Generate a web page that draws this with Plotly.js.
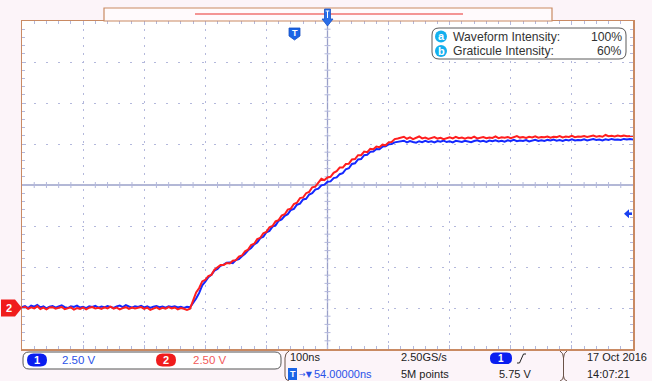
<!DOCTYPE html>
<html>
<head>
<meta charset="utf-8">
<script src="https://cdn.plot.ly/plotly-3.0.1.min.js"></script>
<style>
  html, body { margin: 0; padding: 0; background: #fcf4f9; }
  #scope { width: 652px; height: 381px; }
</style>
</head>
<body>
<div id="scope"></div>
<script>
// Record settings
const SAMPLE_START_NS = -446;
const SAMPLE_STEP_NS = 5;
const timeDivNs = 100;
const voltsPerDiv = 2.5;
const horizontalDelayNs = 54;
const groundOffsetDiv = -3;
const triggerLevelV = 5.75;

// Channel 1 (blue) samples, volts
const ch1Volts = [
  0.05, 0.12, 0.00, 0.14, 0.08, 0.18, 0.04, 0.10, -0.02, 0.08,
  0.12, 0.02, 0.09, 0.16, 0.05, 0.00, 0.11, 0.06, 0.14, 0.03,
  0.08, -0.01, 0.10, 0.06, 0.13, 0.02, 0.09, 0.04, 0.12, 0.07,
  0.01, 0.10, 0.15, 0.05, 0.18, 0.09, 0.02, 0.11, 0.06, 0.13,
  0.04, 0.10, 0.00, 0.08, 0.12, 0.05, 0.09, 0.02, 0.10, 0.06,
  0.11, 0.03, 0.08, 0.01, 0.07, 0.04,
  0.28, 0.58, 0.92, 1.38, 1.60, 1.88, 2.02, 2.28, 2.38, 2.58,
  2.64, 2.76, 2.78, 2.74, 2.92, 2.98, 3.16, 3.30, 3.52, 3.66,
  3.88, 4.00, 4.26, 4.34, 4.62, 4.70, 4.96, 5.04, 5.32, 5.40,
  5.62, 5.72, 5.98, 6.04, 6.30, 6.36, 6.62, 6.66, 6.92, 7.00,
  7.22, 7.28, 7.48, 7.52, 7.70, 7.72, 7.92, 7.96, 8.16, 8.22,
  8.46, 8.52, 8.78, 8.82, 9.06, 9.08, 9.32, 9.34, 9.52, 9.54,
  9.70, 9.68, 9.84, 9.86, 9.98, 10.00, 10.10, 10.12,
  10.14, 10.20, 10.10, 10.18, 10.12, 10.08, 10.17, 10.11, 10.19, 10.13,
  10.16, 10.09, 10.18, 10.14, 10.21, 10.12, 10.16, 10.10, 10.19, 10.15,
  10.13, 10.20, 10.16, 10.11, 10.18, 10.22, 10.15, 10.19, 10.13, 10.21,
  10.17, 10.23, 10.16, 10.20, 10.14, 10.22, 10.18, 10.25, 10.17, 10.21,
  10.19, 10.24, 10.16, 10.22, 10.26, 10.19, 10.23, 10.18, 10.25, 10.21,
  10.27, 10.20, 10.24, 10.19, 10.26, 10.22, 10.28, 10.21, 10.25, 10.23,
  10.29, 10.22, 10.26, 10.30, 10.24, 10.27, 10.22, 10.29, 10.25, 10.31,
  10.26, 10.28, 10.24, 10.31, 10.27, 10.30, 10.28
];

// Channel 2 (red) samples, volts
const ch2Volts = [
  0.00, 0.07, -0.05, 0.04, -0.02, 0.10, -0.06, 0.02, -0.08, 0.03,
  0.05, -0.04, 0.01, 0.06, -0.07, -0.02, 0.04, -0.10, 0.00, -0.05,
  0.03, -0.08, 0.02, 0.06, -0.03, 0.01, -0.06, 0.04, -0.02, 0.08,
  -0.04, 0.02, -0.09, -0.01, 0.05, -0.06, 0.03, -0.03, 0.00, 0.06,
  -0.05, 0.02, -0.12, -0.02, 0.04, -0.07, 0.01, -0.04, 0.05, -0.02,
  0.03, -0.08, 0.00, -0.05, -0.12, -0.04,
  0.45, 0.95, 1.22, 1.62, 1.72, 1.94, 2.02, 2.34, 2.48, 2.62,
  2.62, 2.74, 2.72, 2.88, 2.92, 3.14, 3.20, 3.46, 3.56, 3.84,
  3.92, 4.20, 4.28, 4.56, 4.64, 4.92, 5.00, 5.28, 5.36, 5.64,
  5.72, 6.00, 6.06, 6.34, 6.42, 6.70, 6.74, 7.00, 7.08, 7.36,
  7.40, 7.62, 7.88, 7.80, 7.96, 8.00, 8.24, 8.34, 8.56, 8.56,
  8.78, 8.80, 9.06, 9.08, 9.32, 9.32, 9.54, 9.50, 9.70, 9.68,
  9.84, 9.80, 9.96, 9.92, 10.10, 10.12, 10.30, 10.34,
  10.38, 10.44, 10.32, 10.40, 10.30, 10.36, 10.46, 10.34, 10.39, 10.31,
  10.37, 10.42, 10.33, 10.38, 10.29, 10.36, 10.41, 10.34, 10.44, 10.35,
  10.39, 10.32, 10.40, 10.36, 10.45, 10.34, 10.38, 10.42, 10.35, 10.40,
  10.37, 10.46, 10.36, 10.41, 10.38, 10.43, 10.35, 10.40, 10.48, 10.39,
  10.42, 10.37, 10.44, 10.40, 10.47, 10.38, 10.43, 10.41, 10.46, 10.39,
  10.44, 10.42, 10.48, 10.40, 10.45, 10.43, 10.50, 10.42, 10.46, 10.44,
  10.49, 10.43, 10.47, 10.52, 10.45, 10.48, 10.44, 10.55, 10.47, 10.50,
  10.46, 10.52, 10.48, 10.51, 10.47, 10.50, 10.49
];

// Readout texts
const ch1ScaleText = '2.50 V';
const ch2ScaleText = '2.50 V';
const timebaseText = '100ns';
const delayArrows = '\u2192\u25BC';
const delayValueText = '54.00000ns';
const sampleRateText = '2.50GS/s';
const recordText = '5M points';
const triggerText = '5.75 V';
const dateText = '17 Oct\u00a02016';
const clockText = '14:07:21';
const intensityLabels = ['Waveform Intensity:', 'Graticule Intensity:'];
const intensityValues = ['100%', '60%'];

// Screen geometry (pixels)
const W = 652, H = 381;
const M = { l: 22, r: 19, t: 21, b: 32 };
const PW = W - M.l - M.r, PH = H - M.t - M.b;
const X = p => (p - M.l) / PW;
const Y = p => (H - M.b - p) / PH;
const pt = (x, y) => X(x) + ' ' + Y(y);
function roundRect(x0, y0, x1, y1, r) {
  return 'M ' + pt(x0 + r, y0) + ' L ' + pt(x1 - r, y0) +
    ' Q ' + pt(x1, y0) + ' ' + pt(x1, y0 + r) +
    ' L ' + pt(x1, y1 - r) + ' Q ' + pt(x1, y1) + ' ' + pt(x1 - r, y1) +
    ' L ' + pt(x0 + r, y1) + ' Q ' + pt(x0, y1) + ' ' + pt(x0, y1 - r) +
    ' L ' + pt(x0, y0 + r) + ' Q ' + pt(x0, y0) + ' ' + pt(x0 + r, y0) + ' Z';
}

const centerV = -groundOffsetDiv * voltsPerDiv;
const xRange = [horizontalDelayNs - 5 * timeDivNs, horizontalDelayNs + 5 * timeDivNs];
const yRange = [centerV - 4 * voltsPerDiv, centerV + 4 * voltsPerDiv];

const FONT = 'Liberation Sans, Arial, sans-serif';
const GRID = '#b3b8dc';
const FRAME = '#c98a63';
const BLUE = '#0a1ef0';
const RED = '#f01c1c';

const traces = [
  { y: ch1Volts, x0: SAMPLE_START_NS, dx: SAMPLE_STEP_NS, type: 'scatter', mode: 'lines',
    line: { color: '#1428ff', width: 2 }, hoverinfo: 'skip' },
  { y: ch2Volts, x0: SAMPLE_START_NS, dx: SAMPLE_STEP_NS, type: 'scatter', mode: 'lines',
    line: { color: '#ff1e1e', width: 2 }, hoverinfo: 'skip' }
];

const shapes = [];
// Center crosshair
shapes.push({ type: 'line', layer: 'between', xref: 'x', yref: 'paper', x0: horizontalDelayNs, x1: horizontalDelayNs, y0: 0, y1: 1, line: { color: '#9aa0c8', width: 1.3 } });
shapes.push({ type: 'line', layer: 'between', xref: 'paper', yref: 'y', x0: 0, x1: 1, y0: centerV, y1: centerV, line: { color: '#9aa0c8', width: 1.3 } });
// Minor ticks along the crosshair
for (let k = -20; k <= 20; k++) {
  if (k % 5 === 0) continue;
  shapes.push({ type: 'line', layer: 'between', xref: 'x', yref: 'y', xsizemode: 'pixel', xanchor: horizontalDelayNs,
    x0: -3, x1: 3, y0: centerV + k * voltsPerDiv / 5, y1: centerV + k * voltsPerDiv / 5, line: { color: GRID, width: 1 } });
}
for (let k = -25; k <= 25; k++) {
  if (k % 5 === 0) continue;
  shapes.push({ type: 'line', layer: 'between', xref: 'x', yref: 'y', ysizemode: 'pixel', yanchor: centerV,
    y0: -3, y1: 3, x0: horizontalDelayNs + k * timeDivNs / 5, x1: horizontalDelayNs + k * timeDivNs / 5, line: { color: GRID, width: 1 } });
}
// Record view bar above the screen
shapes.push({ type: 'rect', xref: 'paper', yref: 'paper', x0: X(104), x1: X(552), y0: Y(21), y1: Y(8), fillcolor: '#fffafc', line: { color: FRAME, width: 1.2 } });
shapes.push({ type: 'line', xref: 'paper', yref: 'paper', x0: X(195), x1: X(463), y0: Y(14), y1: Y(14), line: { color: '#f07272', width: 1.5 } });
// Expansion point marker at the horizontal center
shapes.push({ type: 'path', xref: 'x', yref: 'paper', xsizemode: 'pixel', xanchor: horizontalDelayNs,
  path: 'M -3 ' + Y(9) + ' L 3 ' + Y(9) + ' L 3 ' + Y(19) + ' L 5.5 ' + Y(19) + ' L 0 ' + Y(26) + ' L -5.5 ' + Y(19) + ' L -3 ' + Y(19) + ' Z',
  fillcolor: '#2a6ee8', line: { color: '#1850c8', width: 0.8 } });
shapes.push({ type: 'path', xref: 'x', yref: 'paper', xsizemode: 'pixel', xanchor: horizontalDelayNs,
  path: 'M -1.8 ' + Y(11) + ' L 1.8 ' + Y(11) + ' M 0 ' + Y(11) + ' L 0 ' + Y(18), line: { color: '#ffffff', width: 1 } });
// Trigger position marker (t = 0)
shapes.push({ type: 'path', xref: 'x', yref: 'paper', xsizemode: 'pixel', xanchor: 0,
  path: 'M -5.5 ' + Y(28) + ' L 5.5 ' + Y(28) + ' L 5.5 ' + Y(36) + ' L 0 ' + Y(40) + ' L -5.5 ' + Y(36) + ' Z',
  fillcolor: '#1a64e6', line: { color: '#1a50c0', width: 0.8 } });
// Trigger level arrow (right edge)
shapes.push({ type: 'path', xref: 'paper', yref: 'y', ysizemode: 'pixel', yanchor: triggerLevelV,
  path: 'M ' + X(624) + ' 0 L ' + X(629) + ' 4.5 L ' + X(629) + ' -4.5 Z', fillcolor: '#1a40f0', line: { width: 0 } });
shapes.push({ type: 'path', xref: 'paper', yref: 'y', ysizemode: 'pixel', yanchor: triggerLevelV,
  path: 'M ' + X(628) + ' 1.3 L ' + X(632) + ' 1.3 L ' + X(632) + ' -1.3 L ' + X(628) + ' -1.3 Z', fillcolor: '#1a40f0', line: { width: 0 } });
// Channel 2 ground marker (left edge)
shapes.push({ type: 'path', xref: 'paper', yref: 'y', ysizemode: 'pixel', yanchor: 0,
  path: 'M ' + X(1) + ' 8.5 L ' + X(15) + ' 8.5 L ' + X(22) + ' 0 L ' + X(15) + ' -8.5 L ' + X(1) + ' -8.5 Z',
  fillcolor: RED, line: { width: 0 } });
// Intensity readout box
shapes.push({ type: 'path', xref: 'paper', yref: 'paper', path: roundRect(432, 28, 626, 59, 7), fillcolor: '#ffffff', line: { color: '#5a5a5a', width: 1 } });
shapes.push({ type: 'circle', xref: 'paper', yref: 'paper', x0: X(435), x1: X(447), y0: Y(42.5), y1: Y(30.5), fillcolor: '#14b0ee', line: { width: 0 } });
shapes.push({ type: 'circle', xref: 'paper', yref: 'paper', x0: X(435), x1: X(447), y0: Y(57), y1: Y(45), fillcolor: '#14b0ee', line: { width: 0 } });
// Status bar
shapes.push({ type: 'path', xref: 'paper', yref: 'paper', path: roundRect(23, 352, 281, 369, 6), fillcolor: '#ffffff', line: { color: '#555555', width: 1 } });
shapes.push({ type: 'path', xref: 'paper', yref: 'paper', path: roundRect(27, 353.5, 47, 366.5, 6.5), fillcolor: BLUE, line: { width: 0 } });
shapes.push({ type: 'path', xref: 'paper', yref: 'paper', path: roundRect(156, 353.5, 176, 366.5, 6.5), fillcolor: RED, line: { width: 0 } });
shapes.push({ type: 'path', xref: 'paper', yref: 'paper', path: roundRect(490, 352.5, 512, 364, 5.5), fillcolor: BLUE, line: { width: 0 } });
shapes.push({ type: 'rect', xref: 'paper', yref: 'paper', x0: X(288), x1: X(297), y0: Y(380), y1: Y(368), fillcolor: '#1a64e6', line: { width: 0 } });
shapes.push({ type: 'path', xref: 'paper', yref: 'paper',
  path: 'M ' + pt(289, 351) + ' Q ' + pt(285, 353) + ' ' + pt(285, 358) + ' L ' + pt(285, 376) + ' Q ' + pt(285, 380) + ' ' + pt(289, 381),
  line: { color: '#6a5248', width: 1 } });
shapes.push({ type: 'path', xref: 'paper', yref: 'paper',
  path: 'M ' + pt(560, 351) + ' Q ' + pt(563.5, 353) + ' ' + pt(563.5, 358) + ' L ' + pt(563.5, 376) + ' Q ' + pt(563.5, 380) + ' ' + pt(560, 381) +
        ' M ' + pt(567, 351) + ' Q ' + pt(563.5, 353) + ' ' + pt(563.5, 358) + ' M ' + pt(563.5, 376) + ' Q ' + pt(563.5, 380) + ' ' + pt(567, 381),
  line: { color: '#6a5248', width: 1 } });
// Rising edge symbol
shapes.push({ type: 'path', xref: 'paper', yref: 'paper',
  path: 'M ' + pt(517, 363) + ' L ' + pt(519.5, 363) + ' L ' + pt(523.5, 354) + ' L ' + pt(526, 354),
  line: { color: '#222222', width: 1 } });

function label(text, x, y, opts) {
  return Object.assign({ text: text, xref: 'paper', yref: 'paper', x: X(x), y: Y(y), xanchor: 'left', yanchor: 'middle',
    showarrow: false, borderpad: 0, font: { family: FONT, size: 11, color: '#222222' } }, opts || {});
}
const annotations = [
  label('2', 9.5, 0, { yref: 'y', y: 0, xanchor: 'center', font: { family: FONT, size: 11, color: '#ffffff', weight: 'bold' } }),
  { text: 'T', xref: 'x', yref: 'paper', x: 0, y: Y(33.5), xanchor: 'center', yanchor: 'middle', showarrow: false, borderpad: 0,
    font: { family: FONT, size: 9, color: '#ffffff', weight: 'bold' } },
  label('a', 441, 36.2, { xanchor: 'center', font: { family: FONT, size: 11, color: '#ffffff', weight: 'bold' } }),
  label('b', 441, 50.6, { xanchor: 'center', font: { family: FONT, size: 11, color: '#ffffff', weight: 'bold' } }),
  label(intensityLabels[0], 452, 37, { font: { family: FONT, size: 12.2, color: '#333333' } }),
  label(intensityLabels[1], 452, 51, { font: { family: FONT, size: 12.2, color: '#333333' } }),
  label(intensityValues[0], 623, 37, { xanchor: 'right', font: { family: FONT, size: 12.2, color: '#333333' } }),
  label(intensityValues[1], 623, 51, { xanchor: 'right', font: { family: FONT, size: 12.2, color: '#333333' } }),
  label('1', 37, 360, { xanchor: 'center', font: { family: FONT, size: 11, color: '#ffffff', weight: 'bold' } }),
  label(ch1ScaleText, 61, 360, { font: { family: FONT, size: 11.5, color: '#2a52e8' } }),
  label('2', 166, 360, { xanchor: 'center', font: { family: FONT, size: 11, color: '#ffffff', weight: 'bold' } }),
  label(ch2ScaleText, 192, 360, { font: { family: FONT, size: 11.5, color: '#f25a5a' } }),
  label(timebaseText, 289, 357),
  label('T', 292.5, 374, { xanchor: 'center', font: { family: FONT, size: 9, color: '#ffffff', weight: 'bold' } }),
  label(delayArrows, 298, 374, { font: { family: 'DejaVu Sans, sans-serif', size: 8, color: '#2a52e8' } }),
  label(delayValueText, 313, 374, { font: { family: FONT, size: 11, color: '#2a52e8' } }),
  label(sampleRateText, 400, 357),
  label(recordText, 400, 374),
  label('1', 501, 358.3, { xanchor: 'center', font: { family: FONT, size: 10, color: '#ffffff', weight: 'bold' } }),
  label(triggerText, 498, 374),
  label(dateText, 586, 357),
  label(clockText, 586, 374)
];

const layout = {
  width: W, height: H,
  margin: M,
  paper_bgcolor: '#fcf4f9',
  plot_bgcolor: '#ffffff',
  showlegend: false,
  xaxis: {
    range: xRange, tick0: horizontalDelayNs, dtick: timeDivNs,
    showgrid: true, gridcolor: GRID, griddash: '2px,6px', gridwidth: 1,
    zeroline: false, showticklabels: false,
    ticks: 'inside', ticklen: 4, tickcolor: GRID, tickwidth: 1,
    minor: { tick0: horizontalDelayNs, dtick: timeDivNs / 5, ticks: 'inside', ticklen: 3, tickcolor: GRID, showgrid: false },
    showline: true, linecolor: FRAME, linewidth: 1.5, mirror: 'ticks', fixedrange: true
  },
  yaxis: {
    range: yRange, tick0: 0, dtick: voltsPerDiv,
    showgrid: true, gridcolor: GRID, griddash: '2px,10px', gridwidth: 1,
    zeroline: false, showticklabels: false,
    ticks: 'inside', ticklen: 4, tickcolor: GRID, tickwidth: 1,
    minor: { tick0: 0, dtick: voltsPerDiv / 5, ticks: 'inside', ticklen: 3, tickcolor: GRID, showgrid: false },
    showline: true, linecolor: FRAME, linewidth: 1.5, mirror: 'ticks', fixedrange: true
  },
  shapes: shapes,
  annotations: annotations
};

Plotly.newPlot('scope', traces, layout, { staticPlot: true, displayModeBar: false });
</script>
</body>
</html>
